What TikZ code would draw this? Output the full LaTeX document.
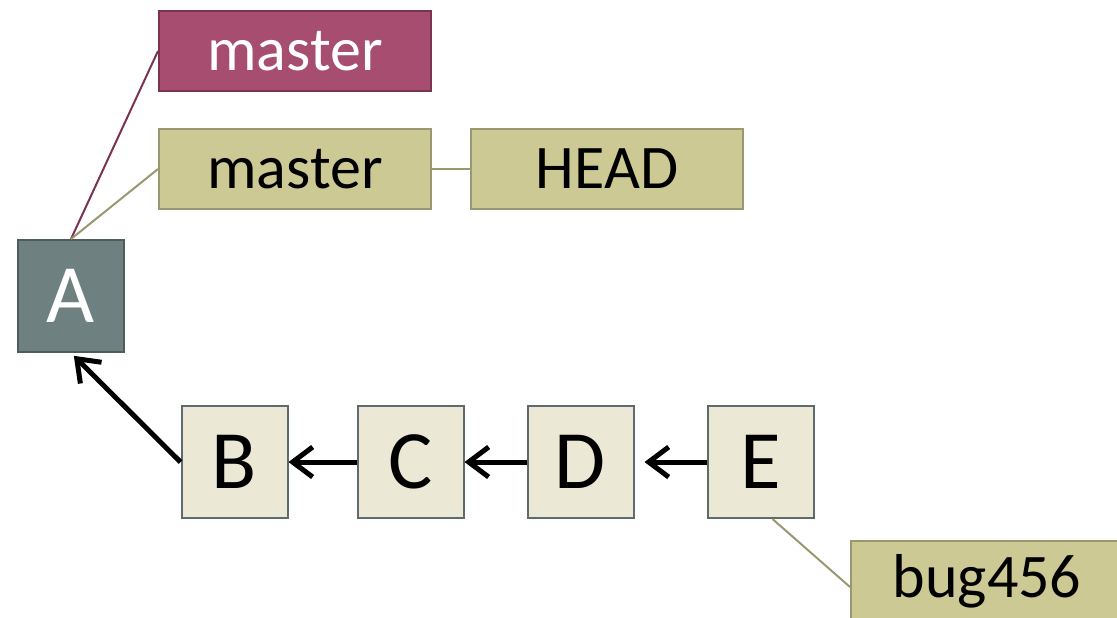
\documentclass[tikz,border=0pt]{standalone}
\usepackage{fontspec}
\setmainfont{Carlito}
\usetikzlibrary{arrows.meta}
\definecolor{redfill}{HTML}{A64D70}
\definecolor{redline}{HTML}{7A3352}
\definecolor{olivefill}{HTML}{CCC994}
\definecolor{oliveline}{HTML}{9A9870}
\definecolor{rootfill}{HTML}{6E8080}
\definecolor{rootline}{HTML}{4E5C5C}
\definecolor{commitfill}{HTML}{EBE8D5}
\definecolor{commitline}{HTML}{5E6B6B}
\tikzset{
	commit/.style={draw=commitline, fill=commitfill, line width=1pt, inner sep=0pt, minimum width=53pt, minimum height=56pt, font=\fontsize{41.5}{41.5}\selectfont},
	root/.style={commit, draw=rootline, fill=rootfill, text=white},
	branch/.style={draw=oliveline, fill=olivefill, line width=1pt, inner sep=0pt, minimum width=136pt, minimum height=40pt, font=\fontsize{31}{31}\selectfont},
	oldbranch/.style={branch, draw=redline, fill=redfill, text=white},
	parent/.style={line width=2.5pt, -{Straight Barb[length=10pt,width=15pt]}},
}

\begin{document}
\begin{tikzpicture}[x=0.5pt, y=-0.5pt]
			%%%%% START %%%%%
			\useasboundingbox (0, 0) rectangle (1117, 617);
			
			\node[root] (A) at (71, 296) {A};
			\node[commit] (B) at (234.5, 462) {B};
			\node[commit] (C) at (410.5, 462) {C};
			\node[commit] (D) at (580.5, 462) {D};
			\node[commit] (E) at (760.5, 462) {E};
			
			\node[oldbranch] (oldmaster) at (295, 51) {master};
			\node[branch] (master) at (295, 169) {master};
			\node[branch] (head) at (607, 169) {HEAD};
			\node[branch] (bug) at (987, 581) {bug456};
			
			\draw[line width=1pt, color=redline] (A.north) -- (oldmaster.west);
			\draw[line width=1pt, color=oliveline] (A.north) -- (master.west);
			\draw[line width=1pt, color=oliveline] (master.east) -- (head.west);
			\draw[line width=1pt, color=oliveline] (E.south) ++(12, 0) -- ([yshift=-3pt]bug.west);
			
			\draw[parent, shorten >=2pt] (B.west) -- (A.south);
			\draw[parent] (C.west) -- (B.east);
			\draw[parent] (D.west) -- (C.east);
			\draw[parent, shorten >=5pt] (E.west) -- (D.east);
			%%%%% END %%%%%
		\end{tikzpicture}
\end{document}
